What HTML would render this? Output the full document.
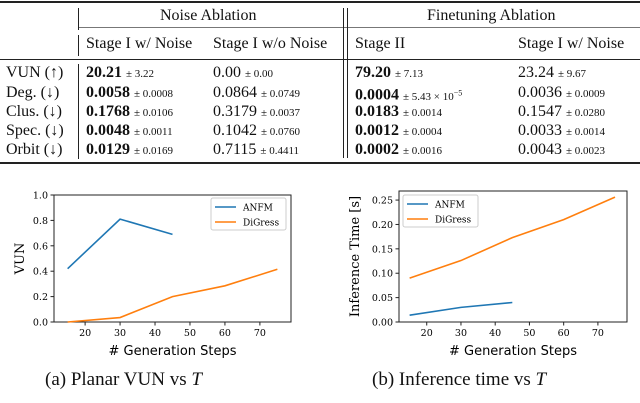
<!DOCTYPE html>
<html><head><meta charset="utf-8"><style>
body{margin:0;width:640px;height:403px;background:#fff;position:relative;overflow:hidden;font-family:"Liberation Serif",serif;color:#111}
.t{position:absolute;white-space:nowrap;font-size:16px;line-height:16px}
.s{font-size:11px}
.b{font-weight:bold}
.r{position:absolute;background:#222}
svg{position:absolute;left:0;top:0}
</style></head><body>
<div>
<div class="r" style="left:0;top:1px;width:640px;height:2px"></div>
<div class="r" style="left:78px;top:27px;width:562px;height:1px;background:#777"></div>
<div class="r" style="left:0;top:59px;width:640px;height:1px"></div>
<div class="r" style="left:0;top:162px;width:640px;height:2px"></div>
<div class="r" style="left:78px;top:8px;width:1px;height:22px"></div>
<div class="r" style="left:78px;top:35px;width:1px;height:21px"></div>
<div class="r" style="left:78px;top:64px;width:1px;height:95px"></div>
<div class="r" style="left:343px;top:8px;width:1px;height:150px"></div>
<div class="r" style="left:347px;top:8px;width:1px;height:150px"></div>
<div class="t" style="left:160px;top:8px">Noise Ablation</div>
<div class="t" style="left:427px;top:8px">Finetuning Ablation</div>
<div class="t" style="left:86px;top:36px">Stage I w/ Noise</div>
<div class="t" style="left:213px;top:36px">Stage I w/o Noise</div>
<div class="t" style="left:355px;top:36px">Stage II</div>
<div class="t" style="left:518px;top:36px">Stage I w/ Noise</div>
<div class="t" style="left:6px;top:65px">VUN (↑)</div>
<div class="t" style="left:6px;top:85px">Deg. (↓)</div>
<div class="t" style="left:6px;top:104px">Clus. (↓)</div>
<div class="t" style="left:6px;top:123px">Spec. (↓)</div>
<div class="t" style="left:6px;top:142px">Orbit (↓)</div>
<div class="t" style="left:86px;top:65px"><b>20.21</b> <span class="s">± 3.22</span></div>
<div class="t" style="left:86px;top:85px"><b>0.0058</b> <span class="s">± 0.0008</span></div>
<div class="t" style="left:86px;top:104px"><b>0.1768</b> <span class="s">± 0.0106</span></div>
<div class="t" style="left:86px;top:123px"><b>0.0048</b> <span class="s">± 0.0011</span></div>
<div class="t" style="left:86px;top:142px"><b>0.0129</b> <span class="s">± 0.0169</span></div>
<div class="t" style="left:213px;top:65px">0.00 <span class="s">± 0.00</span></div>
<div class="t" style="left:213px;top:85px">0.0864 <span class="s">± 0.0749</span></div>
<div class="t" style="left:213px;top:104px">0.3179 <span class="s">± 0.0037</span></div>
<div class="t" style="left:213px;top:123px">0.1042 <span class="s">± 0.0760</span></div>
<div class="t" style="left:213px;top:142px">0.7115 <span class="s">± 0.4411</span></div>
<div class="t" style="left:355px;top:65px"><b>79.20</b> <span class="s">± 7.13</span></div>
<div class="t" style="left:355px;top:85px"><b>0.0004</b> <span class="s">± 5.43 × 10<sup style="font-size:8px">−5</sup></span></div>
<div class="t" style="left:355px;top:104px"><b>0.0183</b> <span class="s">± 0.0014</span></div>
<div class="t" style="left:355px;top:123px"><b>0.0012</b> <span class="s">± 0.0004</span></div>
<div class="t" style="left:355px;top:142px"><b>0.0002</b> <span class="s">± 0.0016</span></div>
<div class="t" style="left:518px;top:65px">23.24 <span class="s">± 9.67</span></div>
<div class="t" style="left:518px;top:85px">0.0036 <span class="s">± 0.0009</span></div>
<div class="t" style="left:518px;top:104px">0.1547 <span class="s">± 0.0280</span></div>
<div class="t" style="left:518px;top:123px">0.0033 <span class="s">± 0.0014</span></div>
<div class="t" style="left:518px;top:142px">0.0043 <span class="s">± 0.0023</span></div>
</div>
<svg id="c" width="640" height="403"></svg>
<div class="t" style="left:45px;top:370px;font-size:19px;line-height:20px">(a) Planar VUN vs <i>T</i></div>
<div class="t" style="left:372px;top:370px;font-size:19px;line-height:20px">(b) Inference time vs <i>T</i></div>
<script>
const steps = [15, 30, 45, 60, 75];
const vunANFM = [0.42, 0.81, 0.69];
const vunDiGress = [0, 0.035, 0.2, 0.285, 0.415];
const timeANFM = [0.014, 0.03, 0.04];
const timeDiGress = [0.09, 0.126, 0.173, 0.21, 0.256];
const xTicks = [20, 30, 40, 50, 60, 70];
const vunTicks = [0.0, 0.2, 0.4, 0.6, 0.8, 1.0];
const timeTicks = [0.00, 0.05, 0.10, 0.15, 0.20, 0.25];
const seriesNames = ['ANFM', 'DiGress'];
const colors = ['#1f77b4', '#ff7f0e'];
const svg = document.getElementById('c');
const NS = 'http://www.w3.org/2000/svg';
function mk(tag, a, txt) { const e = document.createElementNS(NS, tag); for (const k in a) e.setAttribute(k, a[k]); if (txt !== undefined) e.textContent = txt; svg.appendChild(e); return e; }
function chart(o) {
  const sx = v => o.l + (v - o.x0) / (o.x1 - o.x0) * (o.r - o.l);
  const sy = v => o.b - (v - o.y0) / (o.y1 - o.y0) * (o.b - o.t);
  const box = mk('rect', { x: o.l, y: o.t, width: o.r - o.l, height: o.b - o.t, fill: 'none', stroke: '#222', 'stroke-width': 1 });
  
  
  xTicks.forEach(v => {
    mk('line', { x1: sx(v), x2: sx(v), y1: o.b, y2: o.b + 3.5, stroke: '#222' });
    const t = mk('text', { x: sx(v), y: o.b + 14, 'font-size': 9.5, 'text-anchor': 'middle', 'font-family': 'DejaVu Serif, serif' }, v);
    
    
  });
  o.yt.forEach(v => {
    mk('line', { x1: o.l - 3.5, x2: o.l, y1: sy(v), y2: sy(v), stroke: '#222' });
    const t = mk('text', { x: o.l - 6, y: sy(v) + 3.5, 'font-size': 9.5, 'text-anchor': 'end', 'font-family': 'DejaVu Serif, serif' }, v.toFixed(o.dec));
    
    
  });
  const xl = mk('text', { x: (o.l + o.r) / 2, y: o.b + 33, 'font-size': 13, 'text-anchor': 'middle', 'font-family': 'DejaVu Sans, sans-serif' }, '# Generation Steps');
  
  
  const yl = mk('text', { x: 0, y: 0, 'font-size': 13, 'text-anchor': 'middle', 'font-family': 'DejaVu Serif, serif', transform: `translate(${o.yx},${(o.t + o.b) / 2}) rotate(-90)` }, o.ylab);
  
  
  o.series.forEach((s, i) => {
    const p = mk('polyline', { points: s.map((v, j) => sx(steps[j]) + ',' + sy(v)).join(' '), fill: 'none', stroke: colors[i], 'stroke-width': 1.6 });
    
    
  });
  const lg = mk('rect', { x: o.lg[0], y: o.lg[1], width: 75, height: 32, fill: '#fff', stroke: '#ccc', rx: 2 });
  
  
  seriesNames.forEach((n, i) => {
    const y = o.lg[1] + 9 + i * 15;
    mk('line', { x1: o.lg[0] + 4, x2: o.lg[0] + 25, y1: y, y2: y, stroke: colors[i], 'stroke-width': 1.6 });
    const t = mk('text', { x: o.lg[0] + 32, y: y + 3.5, 'font-size': 9, 'font-family': 'DejaVu Serif, serif' }, n);
    
    
  });
}
chart({ id: 'vun', l: 54, r: 291, t: 195, b: 322, x0: 11.1, x1: 78.9, y0: 0, y1: 1, yt: vunTicks, dec: 1, ylab: 'VUN', yx: 24, series: [vunANFM, vunDiGress], lg: [211, 198] });
chart({ id: 'time', l: 399, r: 627, t: 191, b: 322, x0: 11.9, x1: 78.5, y0: 0, y1: 0.2686, yt: timeTicks, dec: 2, ylab: 'Inference Time [s]', yx: 359, series: [timeANFM, timeDiGress], lg: [403, 195] });
</script>
</body></html>
